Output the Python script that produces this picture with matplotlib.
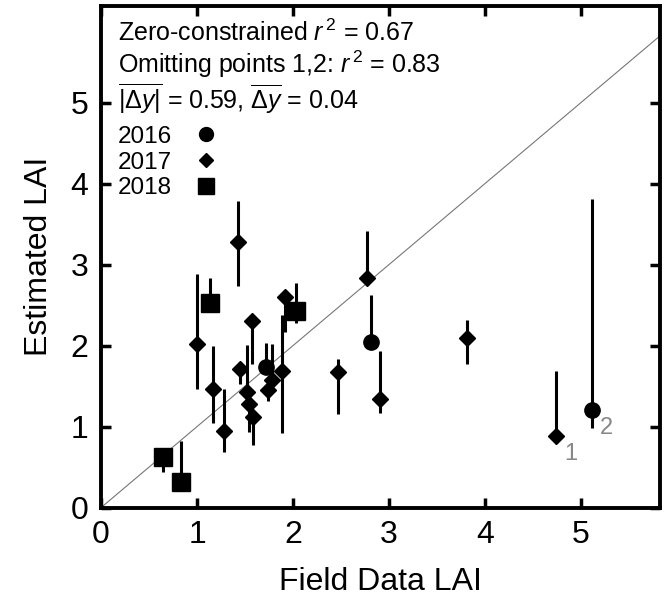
import numpy as np
import matplotlib.pyplot as plt
from matplotlib.lines import Line2D

plt.rcParams['font.family'] = ['Liberation Sans', 'DejaVu Sans']
plt.rcParams['mathtext.fontset'] = 'custom'
plt.rcParams['mathtext.rm'] = 'Liberation Sans'
plt.rcParams['mathtext.it'] = 'Liberation Sans:italic'

# 2016 (circles)
x16 = [1.72, 2.81, 5.11]
y16 = [1.73, 2.04, 1.20]
lo16 = [1.73, 2.04, 0.98]
hi16 = [2.03, 2.63, 3.81]

# 2017 (diamonds)
x17 = [1.00, 1.17, 1.28, 1.43, 1.45, 1.57, 1.52, 1.54, 1.58, 1.74, 1.78,
       1.89, 1.92, 2.47, 2.77, 2.91, 3.81, 4.74]
y17 = [2.02, 1.46, 0.95, 3.28, 1.71, 2.30, 1.43, 1.28, 1.12, 1.45, 1.58,
       1.68, 2.60, 1.67, 2.84, 1.34, 2.09, 0.88]
lo17 = [1.47, 1.05, 0.69, 2.73, 1.53, 1.77, 1.43, 0.93, 0.77, 1.31, 1.45,
        0.92, 2.17, 1.16, 2.84, 1.17, 1.77, 0.88]
hi17 = [2.88, 2.00, 1.47, 3.78, 1.76, 2.30, 2.01, 1.28, 1.12, 1.45, 2.02,
        2.38, 2.60, 1.83, 3.42, 1.93, 2.32, 1.68]

# 2018 (squares)
x18 = [0.65, 0.83, 1.14, 2.03]
y18 = [0.63, 0.32, 2.52, 2.43]
lo18 = [0.44, 0.32, 2.52, 2.28]
hi18 = [0.63, 0.82, 2.83, 2.77]

# labelled outliers
out_x = [4.74, 5.11]
out_y = [0.88, 1.20]
out_lab = ['1', '2']

fig = plt.figure(figsize=(6.65, 6.16), dpi=100)
ax = fig.add_axes([0.152, 0.176, 0.840, 0.814])

# 1:1 line
lim = np.array([0, 7])
ax.plot(lim, lim, color='#777777', lw=0.8, zorder=1)

def draw(x, y, lo, hi, marker, ms):
    x = np.array(x); y = np.array(y)
    err = [y - np.array(lo), np.array(hi) - y]
    ax.errorbar(x, y, yerr=err, fmt=marker, color='black', ms=ms,
                elinewidth=2.2, capsize=0, zorder=3)

draw(x16, y16, lo16, hi16, 'o', 11)
draw(x17, y17, lo17, hi17, 'D', 8.5)
draw(x18, y18, lo18, hi18, 's', 13)

for xx, yy, t in zip(out_x, out_y, out_lab):
    ax.annotate(t, (xx, yy), xytext=(6, -13), textcoords='offset points',
                color='#888888', fontsize=17, ha='left', va='center')

ax.set_xlim(0, 5.82)
ax.set_ylim(0, 6.19)
ax.set_xticks(range(6))
ax.set_yticks(range(6))
ax.tick_params(direction='in', length=7, width=2.5, labelsize=23,
               top=True, right=True, pad=9)
for s in ax.spines.values():
    s.set_linewidth(2.8)

ax.set_xlabel('Field Data LAI', fontsize=23, labelpad=12)
ax.set_ylabel('Estimated LAI', fontsize=23, labelpad=12)

ax.text(0.03, 0.946, r'Zero-constrained $r^{\,2}$ = 0.67', transform=ax.transAxes,
        fontsize=18, va='center')
ax.text(0.03, 0.884, r'Omitting points 1,2: $r^{\,2}$ = 0.83', transform=ax.transAxes,
        fontsize=18, va='center')
ax.text(0.03, 0.816, r'$\overline{|\Delta y|}$ = 0.59, $\overline{\Delta y}$ = 0.04',
        transform=ax.transAxes, fontsize=18, va='center')

handles = [Line2D([], [], ls='none', marker='o', color='black', ms=10),
           Line2D([], [], ls='none', marker='D', color='black', ms=7.5),
           Line2D([], [], ls='none', marker='s', color='black', ms=11)]
ax.legend(handles, ['2016', '2017', '2018'], markerfirst=False, frameon=False,
          loc='upper left', bbox_to_anchor=(0.0, 0.795), fontsize=17.5,
          handletextpad=0.9, labelspacing=0.15, borderaxespad=0.3,
          handlelength=1.0)

fig.savefig('out.png', dpi=100)
